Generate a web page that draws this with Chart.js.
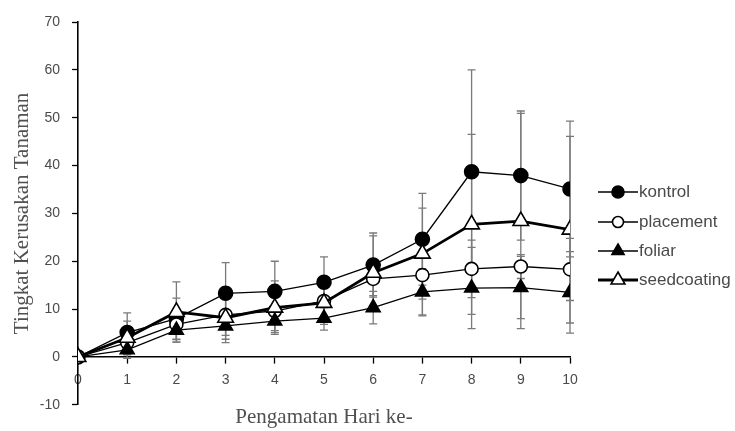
<!DOCTYPE html>
<html>
<head>
<meta charset="utf-8">
<script src="https://cdn.jsdelivr.net/npm/chart.js@4/dist/chart.umd.min.js"></script>
<style>
  html, body { margin: 0; padding: 0; background: #fff; }
  #wrap { position: relative; width: 735px; height: 431px; }
  #legend { position: absolute; left: 598px; top: 0; font-family: "Liberation Sans", Arial, sans-serif; font-size: 17px; color: #4a4a4a; }
  .item { position: absolute; left: 0; display: flex; align-items: center; white-space: nowrap; height: 20px; }
  .item svg { display: block; margin-right: 1px; }
</style>
</head>
<body>
<div id="wrap">
  <canvas id="c" width="735" height="431"></canvas>
  <div id="legend"></div>
</div>
<script>
// Observation days (x axis)
const days = [0, 1, 2, 3, 4, 5, 6, 7, 8, 9, 10];

// Plant damage level per treatment, with error margins
const kontrol        = [0, 5.1, 8.0, 13.3, 13.7, 15.6, 19.2, 24.6, 38.7, 37.9, 35.1];
const kontrolErr     = [0, 4.1, 4.3, 6.4, 6.3, 5.3, 6.7, 9.6, 21.3, 13.5, 14.2];
const placement      = [0, 3.0, 6.8, 8.8, 9.6, 11.7, 16.3, 17.1, 18.4, 18.9, 18.3];
const placementErr   = [0, 2.5, 3.2, 5.8, 4.5, 4.0, 3.5, 8.5, 6.0, 2.5, 6.5];
const foliar         = [0, 1.5, 5.6, 6.5, 7.5, 8.1, 10.3, 13.6, 14.4, 14.5, 13.5];
const foliarErr      = [0, 1.8, 2.5, 2.0, 2.0, 2.5, 3.4, 4.8, 8.5, 6.5, 8.5];
const seedcoating    = [0, 4.0, 9.4, 8.2, 10.3, 11.3, 17.6, 21.6, 27.7, 28.4, 26.6];
const seedcoatingErr = [0, 3.5, 6.3, 4.5, 5.6, 4.5, 7.7, 9.5, 18.8, 22.5, 19.5];

const seriesNames = ['kontrol', 'placement', 'foliar', 'seedcoating'];
const yTicks = [-10, 0, 10, 20, 30, 40, 50, 60, 70];

const styles = [
  { marker: 'circle',   radius: 7,   fill: '#000', line: 1.3, order: 4 },
  { marker: 'circle',   radius: 6.5, fill: '#fff', line: 1.3, order: 3 },
  { marker: 'triangle', radius: 8,   fill: '#000', line: 1.3, order: 2 },
  { marker: 'triangle', radius: 9,   fill: '#fff', line: 2.8, order: 1 }
];

const values = [kontrol, placement, foliar, seedcoating];
const errors = [kontrolErr, placementErr, foliarErr, seedcoatingErr];

const datasets = seriesNames.map((name, k) => ({
  label: name,
  data: days.map((d, i) => ({ x: d, y: values[k][i] })),
  errors: errors[k],
  borderColor: '#000',
  borderWidth: styles[k].line,
  backgroundColor: styles[k].fill,
  pointStyle: styles[k].marker,
  pointRadius: styles[k].radius,
  pointHoverRadius: styles[k].radius,
  pointBackgroundColor: styles[k].fill,
  pointBorderColor: '#000',
  pointBorderWidth: 1.6,
  tension: 0,
  fill: false,
  order: styles[k].order
}));

// Vertical error bars with caps, drawn under the markers
const errorBars = {
  id: 'errorBars',
  beforeDatasetsDraw(chart) {
    const { ctx, scales: { x, y } } = chart;
    ctx.save();
    ctx.strokeStyle = '#7a7a7a';
    ctx.lineWidth = 1.3;
    chart.data.datasets.forEach(ds => {
      ds.data.forEach((p, i) => {
        const e = ds.errors[i];
        if (!e) return;
        const px = x.getPixelForValue(p.x);
        const top = y.getPixelForValue(p.y + e);
        const bot = y.getPixelForValue(p.y - e);
        ctx.beginPath();
        ctx.moveTo(px, top); ctx.lineTo(px, bot);
        ctx.moveTo(px - 4, top); ctx.lineTo(px + 4, top);
        ctx.moveTo(px - 4, bot); ctx.lineTo(px + 4, bot);
        ctx.stroke();
      });
    });
    ctx.restore();
  }
};

const tickFont = { family: "'Liberation Sans', Arial, sans-serif", size: 14 };
const titleFont = { family: "'Liberation Serif', 'Times New Roman', serif", size: 21, weight: 'normal' };

new Chart(document.getElementById('c'), {
  type: 'line',
  data: { datasets },
  plugins: [errorBars],
  options: {
    responsive: false,
    animation: false,
    devicePixelRatio: 1,
    layout: { padding: { top: 22, right: 165, bottom: 0, left: 0 } },
    plugins: {
      legend: { display: false },
      tooltip: { enabled: false },
      title: {
        display: true,
        position: 'bottom',
        fullSize: false,
        text: 'Pengamatan Hari ke-',
        color: '#505050',
        font: titleFont,
        padding: { top: 0, bottom: 1 }
      }
    },
    scales: {
      x: {
        type: 'linear',
        min: 0, max: 10,
        position: { y: 0 },
        afterBuildTicks: s => { s.ticks = days.map(v => ({ value: v })); },
        ticks: { color: '#4a4a4a', font: tickFont, padding: 9, maxRotation: 0 },
        grid: { drawOnChartArea: false, drawTicks: true, tickLength: 6, tickColor: '#000', tickWidth: 1.3 },
        border: { color: '#000', width: 1.6 }
      },
      y: {
        type: 'linear',
        min: -10, max: 70,
        afterBuildTicks: s => { s.ticks = yTicks.map(v => ({ value: v })); },
        afterFit: s => { s.width = 78; },
        ticks: { color: '#4a4a4a', font: tickFont, padding: 12 },
        grid: { drawOnChartArea: false, drawTicks: true, tickLength: 6, tickColor: '#000', tickWidth: 1.3 },
        border: { color: '#000', width: 1.6 },
        title: {
          display: true,
          text: 'Tingkat Kerusakan Tanaman',
          color: '#505050',
          font: titleFont,
          padding: { top: 10, bottom: 0 }
        }
      }
    }
  }
});

// Legend: line segment with the series marker, then the name
const legendY = [192, 222, 251, 280];
const legend = document.getElementById('legend');
seriesNames.forEach((name, k) => {
  const st = styles[k];
  const cx = 20, cy = 10, r = st.radius - 1;
  let marker;
  if (st.marker === 'circle') {
    marker = `<circle cx="${cx}" cy="${cy}" r="${r}" fill="${st.fill}" stroke="#000" stroke-width="1.6"/>`;
  } else {
    const pts = [0, 1, 2].map(j => {
      const a = j * 2 * Math.PI / 3;
      return `${(cx + Math.sin(a) * r).toFixed(2)},${(cy - Math.cos(a) * r).toFixed(2)}`;
    }).join(' ');
    marker = `<polygon points="${pts}" fill="${st.fill}" stroke="#000" stroke-width="1.6"/>`;
  }
  const item = document.createElement('div');
  item.className = 'item';
  item.style.top = (legendY[k] - 10) + 'px';
  item.innerHTML = `<svg width="40" height="20"><line x1="0" y1="10" x2="40" y2="10" stroke="#000" stroke-width="${st.line}"/>${marker}</svg><span>${name}</span>`;
  legend.appendChild(item);
});
</script>
</body>
</html>
